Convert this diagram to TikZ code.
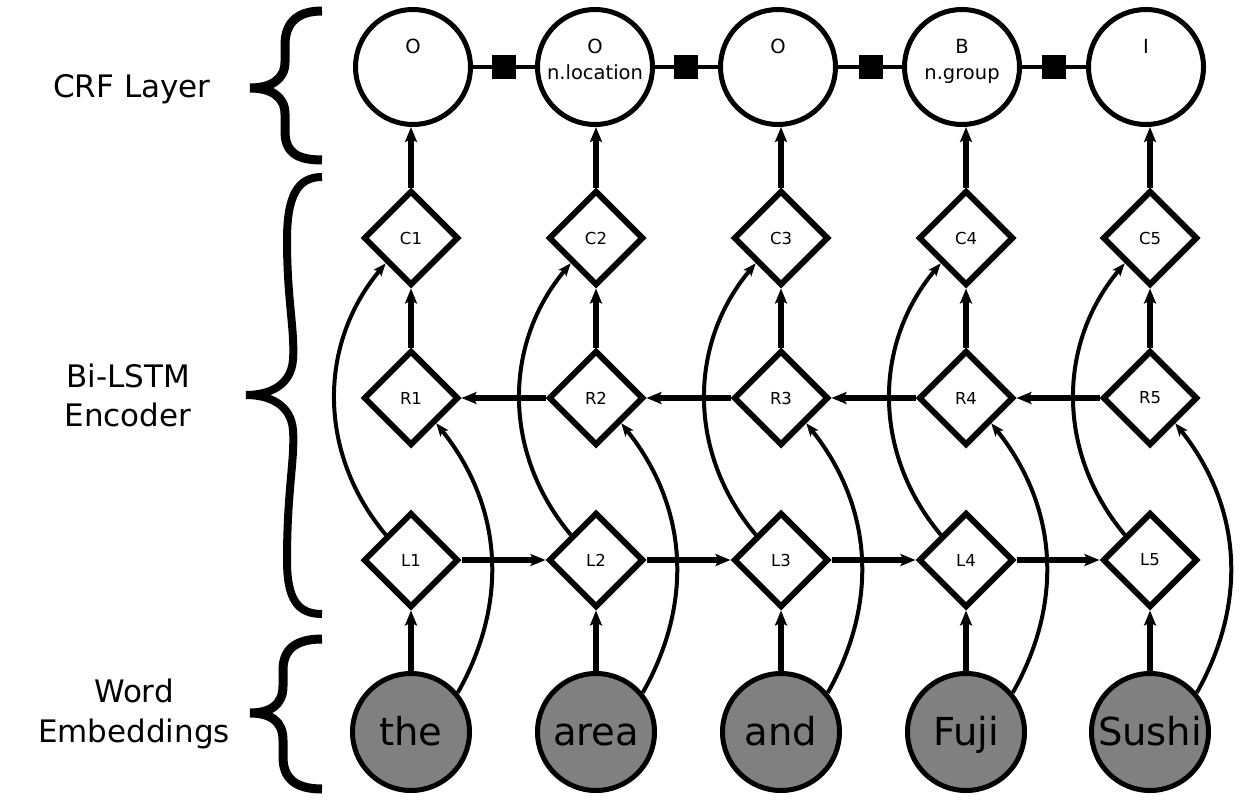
\documentclass[tikz,border=0pt]{standalone}
\usepackage{fontspec}
\setmainfont{DejaVu Sans}
\usetikzlibrary{shapes.geometric,arrows.meta}
\definecolor{wgray}{RGB}{128,128,128}
\begin{document}
\begin{tikzpicture}[x=1pt,y=-1pt,
  crf/.style={circle,draw,line width=5pt,minimum size=115pt,inner sep=0pt},
  fac/.style={rectangle,fill=black,minimum size=24pt,inner sep=0pt},
  cell/.style={diamond,draw,line width=6pt,minimum size=95pt,inner sep=0pt,aspect=1,font=\fontsize{16.5}{19}\selectfont},
  word/.style={circle,draw,line width=5pt,fill=wgray,minimum size=117pt,inner sep=0pt,font=\fontsize{38.5}{44}\selectfont,text height=29pt,text depth=3pt},
  tag/.style={anchor=base,font=\fontsize{19.5}{23}\selectfont},
  side/.style={anchor=base,font=\fontsize{31}{36}\selectfont},
  arr/.style={line width=5.5pt,-{Stealth[length=15pt,width=12pt,inset=3pt]}},
  carr/.style={line width=4pt,-{Stealth[length=13pt,width=10pt,inset=3pt]}},
  link/.style={line width=4.5pt},
  bracestroke/.style={line width=9pt,line cap=butt,line join=miter}
]
\useasboundingbox (0,0) rectangle (1250,800);

% side labels
\node[side] (lab1) at (132,97) {CRF Layer};
\node[side] (lab2) at (128,387) {Bi-LSTM};
\node[side] (lab3) at (128,426) {Encoder};
\node[side] (lab4) at (134,702) {Word};
\node[side] (lab5) at (134,742) {Embeddings};

% braces
\draw[bracestroke] (322,11) .. controls (295,11) and (285,25) .. (285,45)
  -- (285,62) .. controls (285,80) and (270,88) .. (250,88)
  .. controls (270,88) and (285,96) .. (285,114)
  -- (285,131) .. controls (285,151) and (295,160) .. (322,160);
\draw[bracestroke,line width=8pt] (322,177) .. controls (298,177) and (287,195) .. (287,240)
  .. controls (287,300) and (295,330) .. (293,360)
  .. controls (291,385) and (270,395) .. (246,395)
  .. controls (270,395) and (291,405) .. (293,430)
  .. controls (295,460) and (287,490) .. (287,560)
  .. controls (287,600) and (298,614) .. (322,614);
\draw[bracestroke] (322,639) .. controls (295,639) and (283,650) .. (283,670)
  -- (283,686) .. controls (283,705) and (270,713) .. (250,713)
  .. controls (270,713) and (283,721) .. (283,740)
  -- (283,757) .. controls (283,778) and (295,789) .. (322,789);

% CRF layer
\node[crf] (T1) at (413,67) {};
\node[crf] (T2) at (595,67) {};
\node[crf] (T3) at (778,67) {};
\node[crf] (T4) at (962,67) {};
\node[crf] (T5) at (1146,67) {};
\node[fac] (f1) at (504,67) {};
\node[fac] (f2) at (686,67) {};
\node[fac] (f3) at (871,67) {};
\node[fac] (f4) at (1054,67) {};
\draw[link] (T1) -- (f1) -- (T2);
\draw[link] (T2) -- (f2) -- (T3);
\draw[link] (T3) -- (f3) -- (T4);
\draw[link] (T4) -- (f4) -- (T5);
\node[tag] (t1a) at (413,54) {O};
\node[tag] (t2a) at (595,54) {O};
\node[tag] (t2b) at (595,79) {n.location};
\node[tag] (t3a) at (778,54) {O};
\node[tag] (t4a) at (962,54) {B};
\node[tag] (t4b) at (962,79) {n.group};
\node[tag] (t5a) at (1146,54) {I};

% cells and words
\foreach \i/\x/\w in {1/411/the,2/596/area,3/781/and,4/966/Fuji,5/1150/Sushi}{
  \node[cell] (C\i) at (\x,238) {C\i};
  \node[cell] (R\i) at (\x,398) {R\i};
  \node[cell] (L\i) at (\x,560) {L\i};
  \node[word] (w\i) at (\x,732) {\w};
}

% vertical arrows
\foreach \i in {1,...,5}{
  \draw[arr] (w\i.north) -- (L\i.south);
  \draw[arr] (R\i.north) -- (C\i.south);
  \draw[arr] (C\i.north) -- (C\i.north |- T\i.south);
  \draw[carr] (L\i.north west) to[bend left=40] (C\i.south west);
  \draw[carr] (w\i.40) to[bend right=34] (R\i.south east);
}

% horizontal arrows
\foreach \i/\j in {1/2,2/3,3/4,4/5}{
  \draw[arr] (L\i.east) -- (L\j.west);
  \draw[arr] (R\j.west) -- (R\i.east);
}
\end{tikzpicture}
\end{document}
